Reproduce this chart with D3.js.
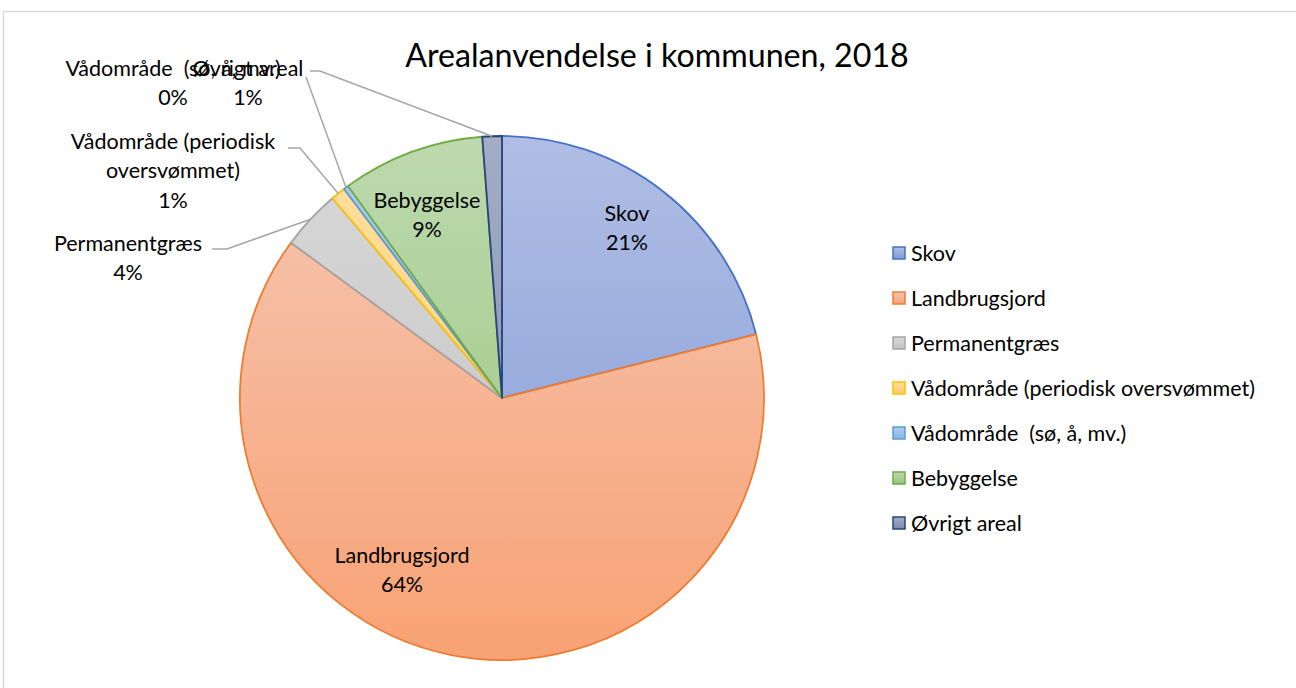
<!DOCTYPE html>
<html><head><meta charset="utf-8">
<script src="https://cdn.jsdelivr.net/npm/d3@7"></script>
<style>
html,body{margin:0;padding:0;background:#fff;}
svg{display:block;font-family:Lato,"Open Sans",sans-serif;}
text{white-space:pre;}
</style></head>
<body>
<svg id="c" width="1296" height="688"></svg>
<script>
const title = "Arealanvendelse i kommunen, 2018";
const categories = ["Skov","Landbrugsjord","Permanentgræs","Vådområde (periodisk oversvømmet)","Vådområde  (sø, å, mv.)","Bebyggelse","Øvrigt areal"];
const values = [21.1, 64.0, 3.7, 0.9, 0.3, 8.8, 1.2];
const pctLabels = ["21%","64%","4%","1%","0%","9%","1%"];
const dataLabelLines = [["Skov"],["Landbrugsjord"],["Permanentgræs"],["Vådområde (periodisk","oversvømmet)"],["Vådområde  (sø, å, mv.)"],["Bebyggelse"],["Øvrigt areal"]];

const strokeColors = ["#4472c4","#ed7d31","#a5a5a5","#ffc000","#5b9bd5","#70ad47","#264478"];
const gradTop = ["#b0bee4","#f5c7b4","#d8d8d8","#ffe0a3","#aecced","#bdd9ae","#a4acc6"];
const gradBot = ["#7f99d6","#f8a274","#c2c2c2","#ffcc62","#88b4e2","#98c57c","#7b89ab"];

const svg = d3.select("#c");
const cx = 502, cy = 398, r = 262;

svg.append("rect").attr("x",3.5).attr("y",11.5).attr("width",1400).attr("height",800)
  .attr("fill","none").attr("stroke","#d9d9d9").attr("stroke-width",1.5);

const defs = svg.append("defs");
categories.forEach((c,i)=>{
  const g = defs.append("linearGradient").attr("id","g"+i)
    .attr("gradientUnits","userSpaceOnUse").attr("x1",0).attr("x2",0).attr("y1",-r).attr("y2",r);
  g.append("stop").attr("offset","0%").attr("stop-color",gradTop[i]);
  g.append("stop").attr("offset","100%").attr("stop-color",gradBot[i]);
  const g2 = defs.append("linearGradient").attr("id","lg"+i).attr("x1",0).attr("x2",0).attr("y1",0).attr("y2",1);
  g2.append("stop").attr("offset","0%").attr("stop-color",gradTop[i]);
  g2.append("stop").attr("offset","100%").attr("stop-color",gradBot[i]);
});

svg.append("text").attr("x",657).attr("y",67).attr("text-anchor","middle")
  .attr("font-size",32.2).attr("fill","#000").text(title);

const pie = d3.pie().value(d=>d).sort(null);
const arcs = pie(values);
const arc = d3.arc().innerRadius(0).outerRadius(r);
const g = svg.append("g").attr("transform",`translate(${cx},${cy})`);
g.selectAll("path").data(arcs).join("path")
  .attr("d",arc)
  .attr("fill",(d,i)=>`url(#g${i})`)
  .attr("stroke",(d,i)=>strokeColors[i])
  .attr("stroke-width",1.8)
  .attr("stroke-linejoin","round");

const labelFont = 21.5;
const lineH = 29.5;
const labelPos = [[627,213],[402,555],[128,243],[173,141],[173,68],[427,200],[248,68]];
const leaderOut = {2:[[212,249],[227,249]], 3:[[288,148],[300,148]], 4:[[306,77]], 6:[[310,71],[320,71]]};

arcs.forEach((a,i)=>{
  const lines = dataLabelLines[i].concat([pctLabels[i]]);
  const [x,y] = labelPos[i];
  if(leaderOut[i]){
    const mid = (a.startAngle+a.endAngle)/2;
    const ex = cx + Math.sin(mid)*r, ey = cy - Math.cos(mid)*r;
    const pts = leaderOut[i].concat([[ex,ey]]);
    svg.append("path").attr("d",d3.line()(pts)).attr("fill","none")
      .attr("stroke","#a6a6a6").attr("stroke-width",1.5);
  }
  const t = svg.append("text").attr("text-anchor","middle").attr("font-size",labelFont).attr("fill","#000");
  lines.forEach((l,k)=>{
    t.append("tspan").attr("x",x).attr("y",y + k*lineH + 7.5).text(l);
  });
});

const leg = svg.append("g");
const legY = d3.scalePoint().domain(categories).range([253,523]);
categories.forEach((c,i)=>{
  const y = legY(c);
  leg.append("rect").attr("x",893).attr("y",y-6).attr("width",12).attr("height",12)
    .attr("fill",`url(#lg${i})`).attr("stroke",strokeColors[i]).attr("stroke-width",1.5);
  leg.append("text").attr("x",911).attr("y",y+7.5).attr("font-size",labelFont).attr("fill","#000").text(c);
});
</script>
</body></html>
